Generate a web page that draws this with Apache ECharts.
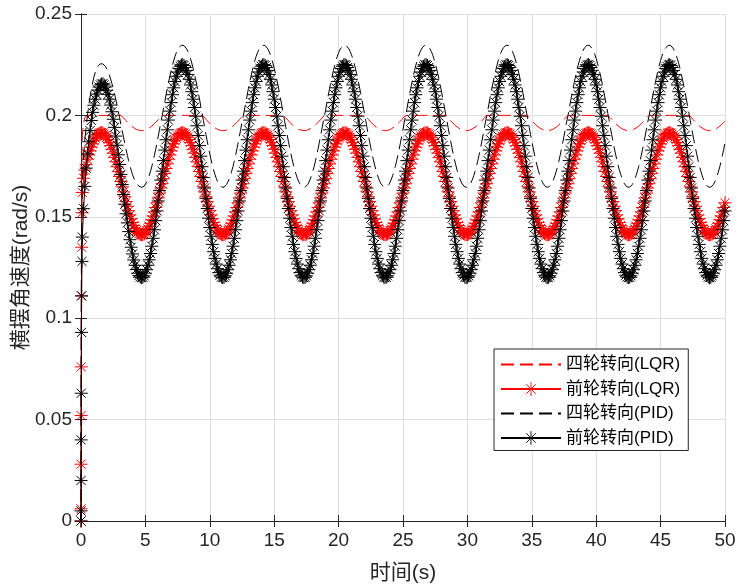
<!DOCTYPE html>
<html><head><meta charset="utf-8">
<script src="https://cdn.jsdelivr.net/npm/echarts@6/dist/echarts.min.js"></script>
<style>html,body{margin:0;padding:0;background:#fff}#c{width:738px;height:588px}</style>
</head><body><div id="c"></div>
<script>
// ---- data ----
const seriesNames = ['四轮转向(LQR)', '前轮转向(LQR)', '四轮转向(PID)', '前轮转向(PID)'];
const xTitle = '时间(s)';
const yTitle = '横摆角速度(rad/s)';

const time = [
0,0.002,0.005,0.01,0.02,0.035,0.05,0.075,
0.1,0.2,0.3,0.4,0.5,0.6,0.7,0.8,0.9,1,1.1,1.2,1.3,1.4,1.5,1.6,1.7,1.8,1.9,2,2.1,2.2,2.3,2.4,2.5,2.6,2.7,2.8,2.9,3,3.1,3.2,3.3,3.4,3.5,3.6,3.7,3.8,3.9,4,4.1,4.2,4.3,4.4,4.5,4.6,4.7,4.8,4.9,5,5.1,5.2,5.3,5.4,5.5,5.6,5.7,5.8,5.9,6,6.1,6.2,
6.3,6.4,6.5,6.6,6.7,6.8,6.9,7,7.1,7.2,7.3,7.4,7.5,7.6,7.7,7.8,7.9,8,8.1,8.2,8.3,8.4,8.5,8.6,8.7,8.8,8.9,9,9.1,9.2,9.3,9.4,9.5,9.6,9.7,9.8,9.9,10,10.1,10.2,10.3,10.4,10.5,10.6,10.7,10.8,10.9,11,11.1,11.2,11.3,11.4,11.5,11.6,11.7,11.8,11.9,12,12.1,12.2,12.3,12.4,12.5,
12.6,12.7,12.8,12.9,13,13.1,13.2,13.3,13.4,13.5,13.6,13.7,13.8,13.9,14,14.1,14.2,14.3,14.4,14.5,14.6,14.7,14.8,14.9,15,15.1,15.2,15.3,15.4,15.5,15.6,15.7,15.8,15.9,16,16.1,16.2,16.3,16.4,16.5,16.6,16.7,16.8,16.9,17,17.1,17.2,17.3,17.4,17.5,17.6,17.7,17.8,17.9,18,18.1,18.2,18.3,18.4,18.5,18.6,18.7,18.8,
18.9,19,19.1,19.2,19.3,19.4,19.5,19.6,19.7,19.8,19.9,20,20.1,20.2,20.3,20.4,20.5,20.6,20.7,20.8,20.9,21,21.1,21.2,21.3,21.4,21.5,21.6,21.7,21.8,21.9,22,22.1,22.2,22.3,22.4,22.5,22.6,22.7,22.8,22.9,23,23.1,23.2,23.3,23.4,23.5,23.6,23.7,23.8,23.9,24,24.1,24.2,24.3,24.4,24.5,24.6,24.7,24.8,24.9,25,25.1,
25.2,25.3,25.4,25.5,25.6,25.7,25.8,25.9,26,26.1,26.2,26.3,26.4,26.5,26.6,26.7,26.8,26.9,27,27.1,27.2,27.3,27.4,27.5,27.6,27.7,27.8,27.9,28,28.1,28.2,28.3,28.4,28.5,28.6,28.7,28.8,28.9,29,29.1,29.2,29.3,29.4,29.5,29.6,29.7,29.8,29.9,30,30.1,30.2,30.3,30.4,30.5,30.6,30.7,30.8,30.9,31,31.1,31.2,31.3,31.4,
31.5,31.6,31.7,31.8,31.9,32,32.1,32.2,32.3,32.4,32.5,32.6,32.7,32.8,32.9,33,33.1,33.2,33.3,33.4,33.5,33.6,33.7,33.8,33.9,34,34.1,34.2,34.3,34.4,34.5,34.6,34.7,34.8,34.9,35,35.1,35.2,35.3,35.4,35.5,35.6,35.7,35.8,35.9,36,36.1,36.2,36.3,36.4,36.5,36.6,36.7,36.8,36.9,37,37.1,37.2,37.3,37.4,37.5,37.6,37.7,
37.8,37.9,38,38.1,38.2,38.3,38.4,38.5,38.6,38.7,38.8,38.9,39,39.1,39.2,39.3,39.4,39.5,39.6,39.7,39.8,39.9,40,40.1,40.2,40.3,40.4,40.5,40.6,40.7,40.8,40.9,41,41.1,41.2,41.3,41.4,41.5,41.6,41.7,41.8,41.9,42,42.1,42.2,42.3,42.4,42.5,42.6,42.7,42.8,42.9,43,43.1,43.2,43.3,43.4,43.5,43.6,43.7,43.8,43.9,44,
44.1,44.2,44.3,44.4,44.5,44.6,44.7,44.8,44.9,45,45.1,45.2,45.3,45.4,45.5,45.6,45.7,45.8,45.9,46,46.1,46.2,46.3,46.4,46.5,46.6,46.7,46.8,46.9,47,47.1,47.2,47.3,47.4,47.5,47.6,47.7,47.8,47.9,48,48.1,48.2,48.3,48.4,48.5,48.6,48.7,48.8,48.9,49,49.1,49.2,49.3,49.4,49.5,49.6,49.7,49.8,49.9,50
];

// 四轮转向(LQR) - red dashed
const fourLQR = [
0,0.010,0.030,0.060,0.100,0.140,0.165,0.182,
0.190,0.1965,0.1990,0.1998,0.2,0.2,0.2,0.2,0.2,0.2,0.2,0.2,0.2,0.2,0.2,0.2,0.2,0.2,0.2,0.2,0.2,0.2,0.2,0.2,0.2,0.2,0.2,0.2,0.2,0.2,0.2,0.1996,0.1988,0.1981,0.1974,0.1967,0.1960,0.1954,0.1948,0.1943,0.1939,0.1935,0.1931,0.1929,0.1927,0.1925,0.1925,0.1925,0.1926,0.1928,0.1931,0.1934,0.1938,0.1942,0.1947,0.1953,0.1959,0.1965,0.1972,0.1979,0.1986,0.1994,
0.2,0.2,0.2,0.2,0.2,0.2,0.2,0.2,0.2,0.2,0.2,0.2,0.2,0.2,0.2,0.2,0.2,0.2,0.2,0.2,0.2,0.2,0.2,0.2,0.2,0.2,0.2,0.2,0.2,0.2,0.2,0.2,0.1996,0.1988,0.1981,0.1974,0.1967,0.1960,0.1954,0.1948,0.1943,0.1939,0.1935,0.1931,0.1929,0.1927,0.1925,0.1925,0.1925,0.1926,0.1928,0.1931,0.1934,0.1938,0.1942,0.1947,0.1953,0.1959,0.1965,0.1972,0.1979,0.1986,0.1994,
0.2,0.2,0.2,0.2,0.2,0.2,0.2,0.2,0.2,0.2,0.2,0.2,0.2,0.2,0.2,0.2,0.2,0.2,0.2,0.2,0.2,0.2,0.2,0.2,0.2,0.2,0.2,0.2,0.2,0.2,0.2,0.2,0.1996,0.1988,0.1981,0.1974,0.1967,0.1960,0.1954,0.1948,0.1943,0.1939,0.1935,0.1931,0.1929,0.1927,0.1925,0.1925,0.1925,0.1926,0.1928,0.1931,0.1934,0.1938,0.1942,0.1947,0.1953,0.1959,0.1965,0.1972,0.1979,0.1986,0.1994,
0.2,0.2,0.2,0.2,0.2,0.2,0.2,0.2,0.2,0.2,0.2,0.2,0.2,0.2,0.2,0.2,0.2,0.2,0.2,0.2,0.2,0.2,0.2,0.2,0.2,0.2,0.2,0.2,0.2,0.2,0.2,0.2,0.1996,0.1988,0.1981,0.1974,0.1967,0.1960,0.1954,0.1948,0.1943,0.1939,0.1935,0.1931,0.1929,0.1927,0.1925,0.1925,0.1925,0.1926,0.1928,0.1931,0.1934,0.1938,0.1942,0.1947,0.1953,0.1959,0.1965,0.1972,0.1979,0.1986,0.1994,
0.2,0.2,0.2,0.2,0.2,0.2,0.2,0.2,0.2,0.2,0.2,0.2,0.2,0.2,0.2,0.2,0.2,0.2,0.2,0.2,0.2,0.2,0.2,0.2,0.2,0.2,0.2,0.2,0.2,0.2,0.2,0.2,0.1996,0.1988,0.1981,0.1974,0.1967,0.1960,0.1954,0.1948,0.1943,0.1939,0.1935,0.1931,0.1929,0.1927,0.1925,0.1925,0.1925,0.1926,0.1928,0.1931,0.1934,0.1938,0.1942,0.1947,0.1953,0.1959,0.1965,0.1972,0.1979,0.1986,0.1994,
0.2,0.2,0.2,0.2,0.2,0.2,0.2,0.2,0.2,0.2,0.2,0.2,0.2,0.2,0.2,0.2,0.2,0.2,0.2,0.2,0.2,0.2,0.2,0.2,0.2,0.2,0.2,0.2,0.2,0.2,0.2,0.2,0.1996,0.1988,0.1981,0.1974,0.1967,0.1960,0.1954,0.1948,0.1943,0.1939,0.1935,0.1931,0.1929,0.1927,0.1925,0.1925,0.1925,0.1926,0.1928,0.1931,0.1934,0.1938,0.1942,0.1947,0.1953,0.1959,0.1965,0.1972,0.1979,0.1986,0.1994,
0.2,0.2,0.2,0.2,0.2,0.2,0.2,0.2,0.2,0.2,0.2,0.2,0.2,0.2,0.2,0.2,0.2,0.2,0.2,0.2,0.2,0.2,0.2,0.2,0.2,0.2,0.2,0.2,0.2,0.2,0.2,0.2,0.1996,0.1988,0.1981,0.1974,0.1967,0.1960,0.1954,0.1948,0.1943,0.1939,0.1935,0.1931,0.1929,0.1927,0.1925,0.1925,0.1925,0.1926,0.1928,0.1931,0.1934,0.1938,0.1942,0.1947,0.1953,0.1959,0.1965,0.1972,0.1979,0.1986,0.1994,
0.2,0.2,0.2,0.2,0.2,0.2,0.2,0.2,0.2,0.2,0.2,0.2,0.2,0.2,0.2,0.2,0.2,0.2,0.2,0.2,0.2,0.2,0.2,0.2,0.2,0.2,0.2,0.2,0.2,0.2,0.2,0.2,0.1996,0.1988,0.1981,0.1974,0.1967,0.1960,0.1954,0.1948,0.1943,0.1939,0.1935,0.1931,0.1929,0.1927,0.1925,0.1925,0.1925,0.1926,0.1928,0.1931,0.1934,0.1938,0.1942,0.1947,0.1953,0.1959,0.1965,0.1972
];

// 前轮转向(LQR) - red with asterisks
const frontLQR = [
0,0.006,0.028,0.052,0.076,0.111,0.135,0.152,
0.162,0.169,0.1730,0.1757,0.1784,0.1805,0.1825,0.1844,0.1860,0.1875,0.1888,0.1898,0.1906,0.1911,0.1914,0.1915,0.1913,0.1908,0.1902,0.1892,0.1881,0.1867,0.1851,0.1833,0.1814,0.1793,0.1771,0.1747,0.1723,0.1699,0.1674,0.1648,0.1623,0.1599,0.1575,0.1552,0.1530,0.1509,0.1490,0.1472,0.1457,0.1443,0.1432,0.1423,0.1417,0.1413,0.1411,0.1412,0.1415,0.1421,0.1430,0.1440,0.1453,0.1468,0.1485,0.1504,0.1524,0.1546,0.1569,0.1593,0.1617,0.1642,
0.1663,0.1688,0.1713,0.1738,0.1761,0.1784,0.1805,0.1825,0.1844,0.1860,0.1875,0.1888,0.1898,0.1906,0.1911,0.1914,0.1915,0.1913,0.1908,0.1902,0.1892,0.1881,0.1867,0.1851,0.1833,0.1814,0.1793,0.1771,0.1747,0.1723,0.1699,0.1674,0.1648,0.1623,0.1599,0.1575,0.1552,0.1530,0.1509,0.1490,0.1472,0.1457,0.1443,0.1432,0.1423,0.1417,0.1413,0.1411,0.1412,0.1415,0.1421,0.1430,0.1440,0.1453,0.1468,0.1485,0.1504,0.1524,0.1546,0.1569,0.1593,0.1617,0.1642,
0.1663,0.1688,0.1713,0.1738,0.1761,0.1784,0.1805,0.1825,0.1844,0.1860,0.1875,0.1888,0.1898,0.1906,0.1911,0.1914,0.1915,0.1913,0.1908,0.1902,0.1892,0.1881,0.1867,0.1851,0.1833,0.1814,0.1793,0.1771,0.1747,0.1723,0.1699,0.1674,0.1648,0.1623,0.1599,0.1575,0.1552,0.1530,0.1509,0.1490,0.1472,0.1457,0.1443,0.1432,0.1423,0.1417,0.1413,0.1411,0.1412,0.1415,0.1421,0.1430,0.1440,0.1453,0.1468,0.1485,0.1504,0.1524,0.1546,0.1569,0.1593,0.1617,0.1642,
0.1663,0.1688,0.1713,0.1738,0.1761,0.1784,0.1805,0.1825,0.1844,0.1860,0.1875,0.1888,0.1898,0.1906,0.1911,0.1914,0.1915,0.1913,0.1908,0.1902,0.1892,0.1881,0.1867,0.1851,0.1833,0.1814,0.1793,0.1771,0.1747,0.1723,0.1699,0.1674,0.1648,0.1623,0.1599,0.1575,0.1552,0.1530,0.1509,0.1490,0.1472,0.1457,0.1443,0.1432,0.1423,0.1417,0.1413,0.1411,0.1412,0.1415,0.1421,0.1430,0.1440,0.1453,0.1468,0.1485,0.1504,0.1524,0.1546,0.1569,0.1593,0.1617,0.1642,
0.1663,0.1688,0.1713,0.1738,0.1761,0.1784,0.1805,0.1825,0.1844,0.1860,0.1875,0.1888,0.1898,0.1906,0.1911,0.1914,0.1915,0.1913,0.1908,0.1902,0.1892,0.1881,0.1867,0.1851,0.1833,0.1814,0.1793,0.1771,0.1747,0.1723,0.1699,0.1674,0.1648,0.1623,0.1599,0.1575,0.1552,0.1530,0.1509,0.1490,0.1472,0.1457,0.1443,0.1432,0.1423,0.1417,0.1413,0.1411,0.1412,0.1415,0.1421,0.1430,0.1440,0.1453,0.1468,0.1485,0.1504,0.1524,0.1546,0.1569,0.1593,0.1617,0.1642,
0.1663,0.1688,0.1713,0.1738,0.1761,0.1784,0.1805,0.1825,0.1844,0.1860,0.1875,0.1888,0.1898,0.1906,0.1911,0.1914,0.1915,0.1913,0.1908,0.1902,0.1892,0.1881,0.1867,0.1851,0.1833,0.1814,0.1793,0.1771,0.1747,0.1723,0.1699,0.1674,0.1648,0.1623,0.1599,0.1575,0.1552,0.1530,0.1509,0.1490,0.1472,0.1457,0.1443,0.1432,0.1423,0.1417,0.1413,0.1411,0.1412,0.1415,0.1421,0.1430,0.1440,0.1453,0.1468,0.1485,0.1504,0.1524,0.1546,0.1569,0.1593,0.1617,0.1642,
0.1663,0.1688,0.1713,0.1738,0.1761,0.1784,0.1805,0.1825,0.1844,0.1860,0.1875,0.1888,0.1898,0.1906,0.1911,0.1914,0.1915,0.1913,0.1908,0.1902,0.1892,0.1881,0.1867,0.1851,0.1833,0.1814,0.1793,0.1771,0.1747,0.1723,0.1699,0.1674,0.1648,0.1623,0.1599,0.1575,0.1552,0.1530,0.1509,0.1490,0.1472,0.1457,0.1443,0.1432,0.1423,0.1417,0.1413,0.1411,0.1412,0.1415,0.1421,0.1430,0.1440,0.1453,0.1468,0.1485,0.1504,0.1524,0.1546,0.1569,0.1593,0.1617,0.1642,
0.1663,0.1688,0.1713,0.1738,0.1761,0.1784,0.1805,0.1825,0.1844,0.1860,0.1875,0.1888,0.1898,0.1906,0.1911,0.1914,0.1915,0.1913,0.1908,0.1902,0.1892,0.1881,0.1867,0.1851,0.1833,0.1814,0.1793,0.1771,0.1747,0.1723,0.1699,0.1674,0.1648,0.1623,0.1599,0.1575,0.1552,0.1530,0.1509,0.1490,0.1472,0.1457,0.1443,0.1432,0.1423,0.1417,0.1413,0.1411,0.1412,0.1415,0.1421,0.1430,0.1440,0.1453,0.1468,0.1485,0.1504,0.1524,0.1546,0.1569
];

// 四轮转向(PID) - black dashed
const fourPID = [
0,0.010,0.030,0.060,0.095,0.125,0.142,0.158,
0.167,0.180,0.188,0.1945,0.2000,0.2047,0.2090,0.2128,0.2160,0.2188,0.2211,0.2229,0.2242,0.2250,0.2254,0.2256,0.2254,0.2249,0.2241,0.2230,0.2216,0.2199,0.2179,0.2157,0.2133,0.2107,0.2079,0.2050,0.2019,0.1988,0.1956,0.1924,0.1893,0.1861,0.1831,0.1803,0.1776,0.1751,0.1729,0.1708,0.1691,0.1677,0.1666,0.1657,0.1651,0.1647,0.1645,0.1646,0.1651,0.1659,0.1671,0.1686,0.1704,0.1725,0.1748,0.1774,0.1803,0.1833,0.1865,0.1898,0.1932,0.1967,
0.1996,0.2031,0.2066,0.2100,0.2133,0.2164,0.2194,0.2222,0.2248,0.2271,0.2291,0.2309,0.2323,0.2334,0.2342,0.2346,0.2347,0.2344,0.2338,0.2328,0.2315,0.2299,0.2280,0.2258,0.2233,0.2206,0.2177,0.2146,0.2114,0.2080,0.2046,0.2011,0.1976,0.1941,0.1906,0.1873,0.1841,0.1810,0.1781,0.1755,0.1730,0.1709,0.1690,0.1674,0.1662,0.1653,0.1647,0.1645,0.1646,0.1651,0.1659,0.1671,0.1686,0.1704,0.1725,0.1748,0.1774,0.1803,0.1833,0.1865,0.1898,0.1932,0.1967,
0.1996,0.2031,0.2066,0.2100,0.2133,0.2164,0.2194,0.2222,0.2248,0.2271,0.2291,0.2309,0.2323,0.2334,0.2342,0.2346,0.2347,0.2344,0.2338,0.2328,0.2315,0.2299,0.2280,0.2258,0.2233,0.2206,0.2177,0.2146,0.2114,0.2080,0.2046,0.2011,0.1976,0.1941,0.1906,0.1873,0.1841,0.1810,0.1781,0.1755,0.1730,0.1709,0.1690,0.1674,0.1662,0.1653,0.1647,0.1645,0.1646,0.1651,0.1659,0.1671,0.1686,0.1704,0.1725,0.1748,0.1774,0.1803,0.1833,0.1865,0.1898,0.1932,0.1967,
0.1996,0.2031,0.2066,0.2100,0.2133,0.2164,0.2194,0.2222,0.2248,0.2271,0.2291,0.2309,0.2323,0.2334,0.2342,0.2346,0.2347,0.2344,0.2338,0.2328,0.2315,0.2299,0.2280,0.2258,0.2233,0.2206,0.2177,0.2146,0.2114,0.2080,0.2046,0.2011,0.1976,0.1941,0.1906,0.1873,0.1841,0.1810,0.1781,0.1755,0.1730,0.1709,0.1690,0.1674,0.1662,0.1653,0.1647,0.1645,0.1646,0.1651,0.1659,0.1671,0.1686,0.1704,0.1725,0.1748,0.1774,0.1803,0.1833,0.1865,0.1898,0.1932,0.1967,
0.1996,0.2031,0.2066,0.2100,0.2133,0.2164,0.2194,0.2222,0.2248,0.2271,0.2291,0.2309,0.2323,0.2334,0.2342,0.2346,0.2347,0.2344,0.2338,0.2328,0.2315,0.2299,0.2280,0.2258,0.2233,0.2206,0.2177,0.2146,0.2114,0.2080,0.2046,0.2011,0.1976,0.1941,0.1906,0.1873,0.1841,0.1810,0.1781,0.1755,0.1730,0.1709,0.1690,0.1674,0.1662,0.1653,0.1647,0.1645,0.1646,0.1651,0.1659,0.1671,0.1686,0.1704,0.1725,0.1748,0.1774,0.1803,0.1833,0.1865,0.1898,0.1932,0.1967,
0.1996,0.2031,0.2066,0.2100,0.2133,0.2164,0.2194,0.2222,0.2248,0.2271,0.2291,0.2309,0.2323,0.2334,0.2342,0.2346,0.2347,0.2344,0.2338,0.2328,0.2315,0.2299,0.2280,0.2258,0.2233,0.2206,0.2177,0.2146,0.2114,0.2080,0.2046,0.2011,0.1976,0.1941,0.1906,0.1873,0.1841,0.1810,0.1781,0.1755,0.1730,0.1709,0.1690,0.1674,0.1662,0.1653,0.1647,0.1645,0.1646,0.1651,0.1659,0.1671,0.1686,0.1704,0.1725,0.1748,0.1774,0.1803,0.1833,0.1865,0.1898,0.1932,0.1967,
0.1996,0.2031,0.2066,0.2100,0.2133,0.2164,0.2194,0.2222,0.2248,0.2271,0.2291,0.2309,0.2323,0.2334,0.2342,0.2346,0.2347,0.2344,0.2338,0.2328,0.2315,0.2299,0.2280,0.2258,0.2233,0.2206,0.2177,0.2146,0.2114,0.2080,0.2046,0.2011,0.1976,0.1941,0.1906,0.1873,0.1841,0.1810,0.1781,0.1755,0.1730,0.1709,0.1690,0.1674,0.1662,0.1653,0.1647,0.1645,0.1646,0.1651,0.1659,0.1671,0.1686,0.1704,0.1725,0.1748,0.1774,0.1803,0.1833,0.1865,0.1898,0.1932,0.1967,
0.1996,0.2031,0.2066,0.2100,0.2133,0.2164,0.2194,0.2222,0.2248,0.2271,0.2291,0.2309,0.2323,0.2334,0.2342,0.2346,0.2347,0.2344,0.2338,0.2328,0.2315,0.2299,0.2280,0.2258,0.2233,0.2206,0.2177,0.2146,0.2114,0.2080,0.2046,0.2011,0.1976,0.1941,0.1906,0.1873,0.1841,0.1810,0.1781,0.1755,0.1730,0.1709,0.1690,0.1674,0.1662,0.1653,0.1647,0.1645,0.1646,0.1651,0.1659,0.1671,0.1686,0.1704,0.1725,0.1748,0.1774,0.1803,0.1833,0.1865
];

// 前轮转向(PID) - black with asterisks
const frontPID = [
0,0.005,0.020,0.040,0.063,0.093,0.111,0.128,
0.140,0.154,0.165,0.174,0.181,0.187,0.1925,0.1975,0.2015,0.2050,0.2080,0.2105,0.2125,0.2140,0.2150,0.2155,0.2156,0.2150,0.2140,0.2124,0.2104,0.2080,0.2051,0.2018,0.1981,0.1941,0.1898,0.1853,0.1806,0.1758,0.1709,0.1659,0.1610,0.1562,0.1515,0.1470,0.1427,0.1387,0.1350,0.1317,0.1287,0.1261,0.1240,0.1222,0.1210,0.1203,0.1200,0.1202,0.1209,0.1222,0.1239,0.1261,0.1288,0.1319,0.1355,0.1394,0.1436,0.1481,0.1529,0.1578,0.1629,0.1681,
0.1725,0.1777,0.1829,0.1880,0.1929,0.1977,0.2021,0.2063,0.2102,0.2136,0.2167,0.2193,0.2214,0.2231,0.2242,0.2249,0.2250,0.2246,0.2236,0.2222,0.2202,0.2178,0.2150,0.2117,0.2080,0.2039,0.1996,0.1949,0.1901,0.1851,0.1799,0.1747,0.1694,0.1642,0.1591,0.1541,0.1493,0.1447,0.1404,0.1364,0.1328,0.1295,0.1267,0.1244,0.1225,0.1212,0.1203,0.1200,0.1202,0.1209,0.1222,0.1239,0.1261,0.1288,0.1319,0.1355,0.1394,0.1436,0.1481,0.1529,0.1578,0.1629,0.1681,
0.1725,0.1777,0.1829,0.1880,0.1929,0.1977,0.2021,0.2063,0.2102,0.2136,0.2167,0.2193,0.2214,0.2231,0.2242,0.2249,0.2250,0.2246,0.2236,0.2222,0.2202,0.2178,0.2150,0.2117,0.2080,0.2039,0.1996,0.1949,0.1901,0.1851,0.1799,0.1747,0.1694,0.1642,0.1591,0.1541,0.1493,0.1447,0.1404,0.1364,0.1328,0.1295,0.1267,0.1244,0.1225,0.1212,0.1203,0.1200,0.1202,0.1209,0.1222,0.1239,0.1261,0.1288,0.1319,0.1355,0.1394,0.1436,0.1481,0.1529,0.1578,0.1629,0.1681,
0.1725,0.1777,0.1829,0.1880,0.1929,0.1977,0.2021,0.2063,0.2102,0.2136,0.2167,0.2193,0.2214,0.2231,0.2242,0.2249,0.2250,0.2246,0.2236,0.2222,0.2202,0.2178,0.2150,0.2117,0.2080,0.2039,0.1996,0.1949,0.1901,0.1851,0.1799,0.1747,0.1694,0.1642,0.1591,0.1541,0.1493,0.1447,0.1404,0.1364,0.1328,0.1295,0.1267,0.1244,0.1225,0.1212,0.1203,0.1200,0.1202,0.1209,0.1222,0.1239,0.1261,0.1288,0.1319,0.1355,0.1394,0.1436,0.1481,0.1529,0.1578,0.1629,0.1681,
0.1725,0.1777,0.1829,0.1880,0.1929,0.1977,0.2021,0.2063,0.2102,0.2136,0.2167,0.2193,0.2214,0.2231,0.2242,0.2249,0.2250,0.2246,0.2236,0.2222,0.2202,0.2178,0.2150,0.2117,0.2080,0.2039,0.1996,0.1949,0.1901,0.1851,0.1799,0.1747,0.1694,0.1642,0.1591,0.1541,0.1493,0.1447,0.1404,0.1364,0.1328,0.1295,0.1267,0.1244,0.1225,0.1212,0.1203,0.1200,0.1202,0.1209,0.1222,0.1239,0.1261,0.1288,0.1319,0.1355,0.1394,0.1436,0.1481,0.1529,0.1578,0.1629,0.1681,
0.1725,0.1777,0.1829,0.1880,0.1929,0.1977,0.2021,0.2063,0.2102,0.2136,0.2167,0.2193,0.2214,0.2231,0.2242,0.2249,0.2250,0.2246,0.2236,0.2222,0.2202,0.2178,0.2150,0.2117,0.2080,0.2039,0.1996,0.1949,0.1901,0.1851,0.1799,0.1747,0.1694,0.1642,0.1591,0.1541,0.1493,0.1447,0.1404,0.1364,0.1328,0.1295,0.1267,0.1244,0.1225,0.1212,0.1203,0.1200,0.1202,0.1209,0.1222,0.1239,0.1261,0.1288,0.1319,0.1355,0.1394,0.1436,0.1481,0.1529,0.1578,0.1629,0.1681,
0.1725,0.1777,0.1829,0.1880,0.1929,0.1977,0.2021,0.2063,0.2102,0.2136,0.2167,0.2193,0.2214,0.2231,0.2242,0.2249,0.2250,0.2246,0.2236,0.2222,0.2202,0.2178,0.2150,0.2117,0.2080,0.2039,0.1996,0.1949,0.1901,0.1851,0.1799,0.1747,0.1694,0.1642,0.1591,0.1541,0.1493,0.1447,0.1404,0.1364,0.1328,0.1295,0.1267,0.1244,0.1225,0.1212,0.1203,0.1200,0.1202,0.1209,0.1222,0.1239,0.1261,0.1288,0.1319,0.1355,0.1394,0.1436,0.1481,0.1529,0.1578,0.1629,0.1681,
0.1725,0.1777,0.1829,0.1880,0.1929,0.1977,0.2021,0.2063,0.2102,0.2136,0.2167,0.2193,0.2214,0.2231,0.2242,0.2249,0.2250,0.2246,0.2236,0.2222,0.2202,0.2178,0.2150,0.2117,0.2080,0.2039,0.1996,0.1949,0.1901,0.1851,0.1799,0.1747,0.1694,0.1642,0.1591,0.1541,0.1493,0.1447,0.1404,0.1364,0.1328,0.1295,0.1267,0.1244,0.1225,0.1212,0.1203,0.1200,0.1202,0.1209,0.1222,0.1239,0.1261,0.1288,0.1319,0.1355,0.1394,0.1436,0.1481,0.1529
];

// ---- chart ----
const FONT = "'Liberation Sans', Arial, 'Noto Sans CJK SC', sans-serif";
const AX = '#262626';
const STAR = 'path://M0,-1L0,1M-1,0L1,0M-0.7,-0.7L0.7,0.7M-0.7,0.7L0.7,-0.7';

const lens = [fourLQR, frontLQR, fourPID, frontPID].map(a => a.length);
if (lens.some(l => l !== time.length)) {
  document.body.insertAdjacentHTML('beforeend', '<pre>LEN MISMATCH ' + time.length + ' ' + lens.join(',') + '</pre>');
}
const pts = arr => time.map((t, i) => [t, arr[i]]);

const chart = echarts.init(document.getElementById('c'), null, {renderer: 'canvas'});

const axisBase = {
  type: 'value',
  axisLine: {show: true, lineStyle: {color: AX, width: 1}},
  axisTick: {show: true, inside: true, length: 6, lineStyle: {color: AX, width: 1}},
};

const option = {
  animation: false,
  backgroundColor: '#fff',
  grid: {left: 81, right: 13, top: 14, bottom: 67, containLabel: false, outerBoundsMode: 'none'},
  xAxis: [
    Object.assign({}, axisBase, {
      position: 'bottom', min: 0, max: 50, interval: 5,
      name: xTitle, nameLocation: 'middle', nameGap: 42, nameMoveOverlap: false,
      nameTextStyle: {fontSize: 21, color: AX, fontFamily: FONT},
      axisLabel: {fontSize: 19, color: AX, fontFamily: FONT, margin: 10},
      splitLine: {show: true, lineStyle: {color: '#dfdfdf', width: 1}}
    }),
    Object.assign({}, axisBase, {
      position: 'top', min: 0, max: 50, interval: 5,
      axisLabel: {show: false}, splitLine: {show: false}
    })
  ],
  yAxis: [
    Object.assign({}, axisBase, {
      position: 'left', min: 0, max: 0.25, interval: 0.05,
      name: yTitle, nameLocation: 'middle', nameGap: 49, nameMoveOverlap: false,
      nameTextStyle: {fontSize: 21, color: AX, fontFamily: FONT},
      axisLabel: {fontSize: 19, color: AX, fontFamily: FONT, margin: 9},
      splitLine: {show: true, lineStyle: {color: '#dfdfdf', width: 1}}
    }),
    Object.assign({}, axisBase, {
      position: 'right', min: 0, max: 0.25, interval: 0.05,
      axisLabel: {show: false}, splitLine: {show: false}
    })
  ],
  legend: {
    left: 494, top: 349,
    orient: 'vertical',
    itemWidth: 60, itemHeight: 17, itemGap: 7.5,
    padding: [7, 8, 4, 6],
    backgroundColor: '#fff',
    borderColor: AX, borderWidth: 1, borderRadius: 0,
    selectedMode: false,
    textStyle: {fontSize: 17, color: '#000', fontFamily: FONT},
    data: [
      {name: seriesNames[0], itemStyle: {color: 'rgba(0,0,0,0)', borderWidth: 0, borderColor: 'rgba(0,0,0,0)'}},
      {name: seriesNames[1], itemStyle: {color: 'rgba(0,0,0,0)', borderColor: '#ff0000', borderWidth: 0.9}},
      {name: seriesNames[2], itemStyle: {color: 'rgba(0,0,0,0)', borderWidth: 0, borderColor: 'rgba(0,0,0,0)'}},
      {name: seriesNames[3], itemStyle: {color: 'rgba(0,0,0,0)', borderColor: '#000000', borderWidth: 0.9}}
    ]
  },
  series: [
    {
      name: seriesNames[0], type: 'line', data: pts(fourLQR),
      symbol: 'none', silent: true, z: 2,
      itemStyle: {color: '#ff0000'},
      lineStyle: {color: '#ff0000', width: 1, type: [13, 6]},
      emphasis: {disabled: true}
    },
    {
      name: seriesNames[1], type: 'line', data: pts(frontLQR),
      symbol: STAR, symbolSize: 13, showSymbol: true, silent: true, z: 3,
      itemStyle: {color: 'rgba(0,0,0,0)', borderColor: '#ff0000', borderWidth: 1},
      lineStyle: {color: '#ff0000', width: 1},
      emphasis: {disabled: true}
    },
    {
      name: seriesNames[2], type: 'line', data: pts(fourPID),
      symbol: 'none', silent: true, z: 4,
      itemStyle: {color: '#000000'},
      lineStyle: {color: '#000000', width: 1, type: [13, 6]},
      emphasis: {disabled: true}
    },
    {
      name: seriesNames[3], type: 'line', data: pts(frontPID),
      symbol: STAR, symbolSize: 13, showSymbol: true, silent: true, z: 5,
      itemStyle: {color: 'rgba(0,0,0,0)', borderColor: '#000000', borderWidth: 1},
      lineStyle: {color: '#000000', width: 1},
      emphasis: {disabled: true}
    }
  ]
};
chart.setOption(option);
</script>
</body></html>
